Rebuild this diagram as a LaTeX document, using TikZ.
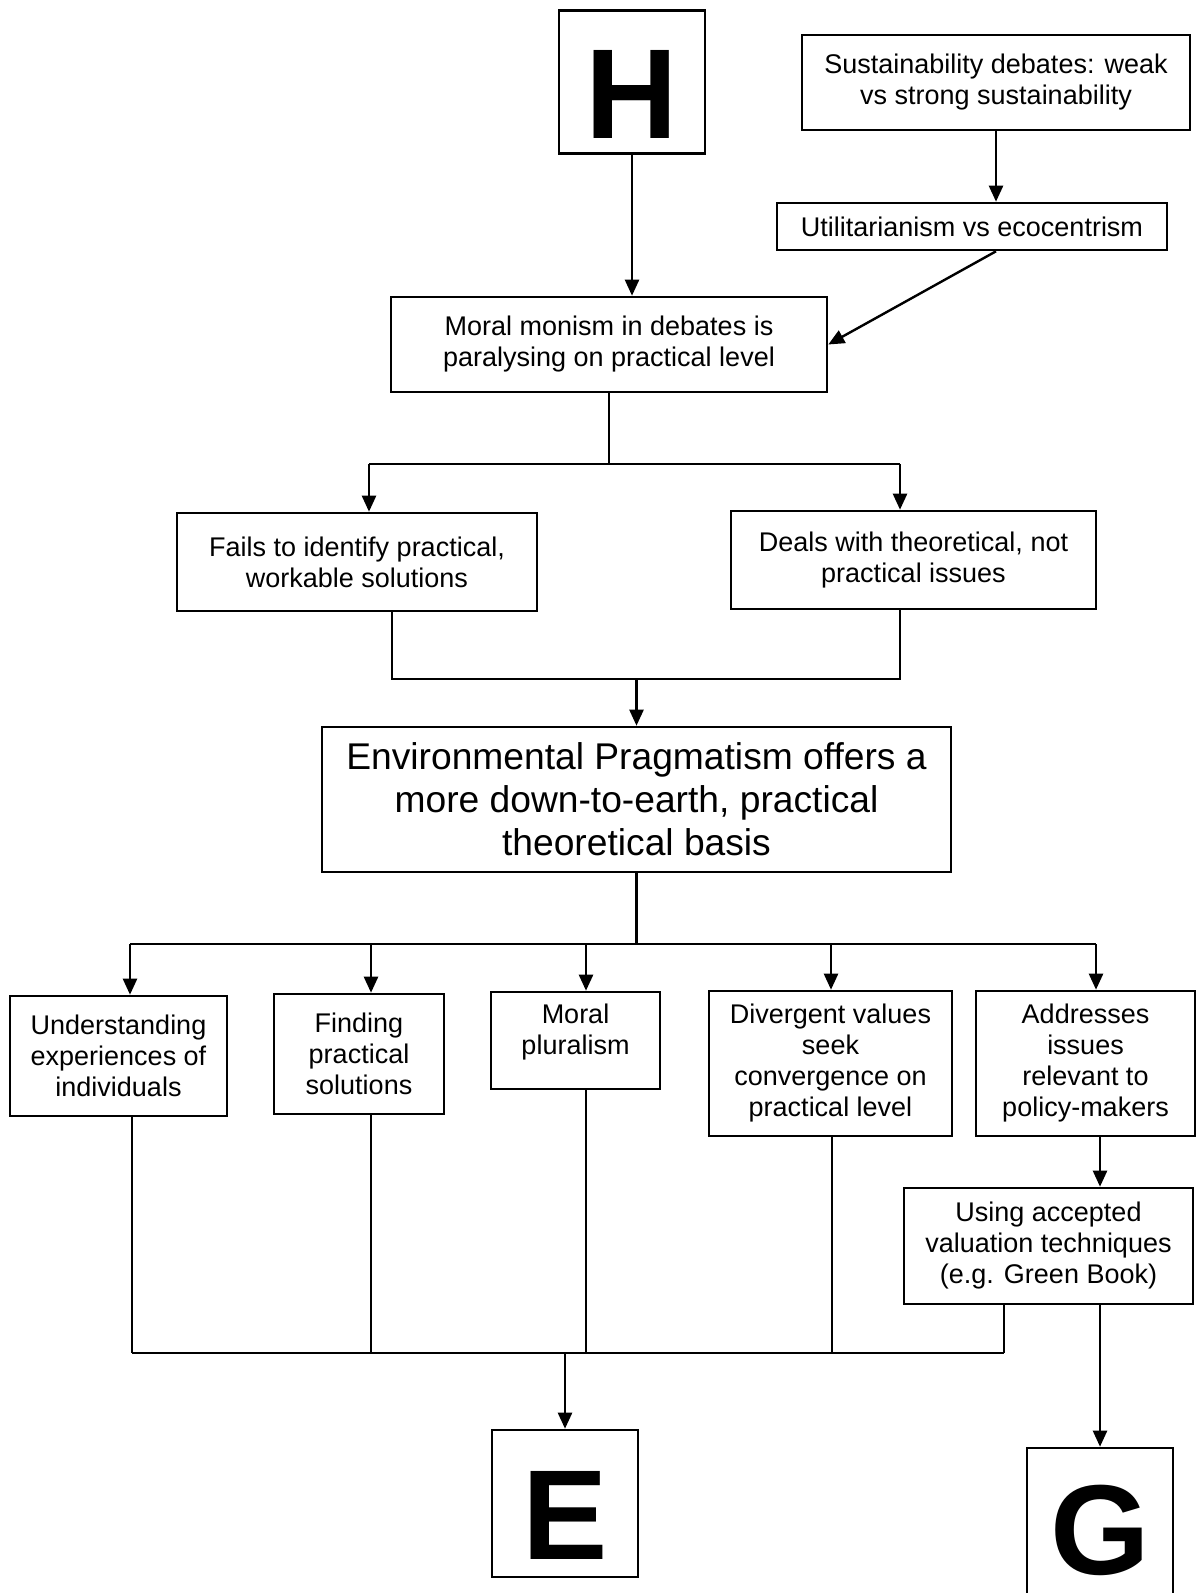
\documentclass[tikz,border=0pt]{standalone}
\usepackage{fontspec}
\setmainfont{Liberation Sans}
\usetikzlibrary{positioning,calc,arrows.meta}

% heavy letter, optionally dropped below the box centre
\newcommand{\bigletter}[2][0pt]{\raisebox{-#1}[\height][0pt]{\fontsize{64}{64}\selectfont\bfseries #2}}

\tikzset{
    box/.style={draw, line width=1.3pt, align=center, inner sep=0pt,
        font=\fontsize{13.5}{15.5}\selectfont},
    bigbox/.style={box, font=\fontsize{18.6}{21.5}\selectfont},
    letterbox/.style={draw, line width=1.3pt, inner sep=0pt,
        minimum width=73pt, minimum height=73pt},
    arr/.style={line width=1.2pt, -{Triangle[length=8pt,width=7pt]}},
    link/.style={line width=1.2pt}
}

\begin{document}
\begin{tikzpicture}[x=0.5pt, y=-0.5pt]
    \useasboundingbox (0,0) rectangle (1201,1593);

    % top part
    \node[letterbox, minimum height=71.5pt] (hbox) at (632,82) {\bigletter[6pt]{H}};
    \node[box, minimum width=194pt, minimum height=47.5pt] (sust) at (996,82.5)
        {Sustainability debates: weak\\vs strong sustainability};
    \node[box, minimum width=195pt, minimum height=23.5pt] (util) at (972,226.5)
        {Utilitarianism vs ecocentrism};
    \node[box, minimum width=218pt, minimum height=47.5pt] (moral) at (609,344.5)
        {Moral monism in debates is\\paralysing on practical level};
    \node[box, minimum width=180pt, minimum height=49pt] (fails) at (357,562)
        {Fails to identify practical,\\workable solutions};
    \node[box, minimum width=182.5pt, minimum height=49pt] (deals) at (913.5,560)
        {Deals with theoretical, not\\practical issues};
    \node[bigbox, minimum width=314.5pt, minimum height=72.5pt] (env) at (636.5,799.5)
        {Environmental Pragmatism offers a\\more down-to-earth, practical\\theoretical basis};

    % the five strands
    \node[box, minimum width=108.5pt, minimum height=60pt] (und) at (118.5,1056)
        {Understanding\\experiences of\\individuals};
    \node[box, minimum width=85pt, minimum height=60pt] (find) at (359,1054)
        {Finding\\practical\\solutions};
    \node[box, minimum width=84.5pt, minimum height=48.5pt] (plur) at (575.5,1040.5)
        {Moral\\pluralism\\[-4pt]};
    \node[box, minimum width=121.5pt, minimum height=72.5pt] (div) at (830.5,1063.5)
        {Divergent values\\seek\\convergence on\\practical level};
    \node[box, minimum width=109.5pt, minimum height=72.5pt] (addr) at (1085.5,1063.5)
        {Addresses\\issues\\relevant to\\policy-makers};
    \node[box, minimum width=144.5pt, minimum height=58pt] (using) at (1048.5,1246)
        {Using accepted\\valuation techniques\\(e.g. Green Book)};

    \node[letterbox, minimum height=73.5pt] (ebox) at (565,1503.5) {\bigletter[6pt]{E}};
    \node[letterbox, minimum height=82pt] (gbox) at (1100,1530) {\bigletter{G}};

    % arrows into the monism box
    \draw[arr] (hbox) -- (hbox |- moral.north);
    \draw[arr] (sust) -- (sust |- util.north);
    \draw[arr] (sust |- util.south) -- (moral.east);

    % first split and join
    \coordinate (fl) at (369,464);
    \coordinate (fr) at (900,464);
    \draw[link] (moral) -- (moral |- fl);
    \draw[link] (fl) -- (fr);
    \draw[arr] (fl) -- (fl |- fails.north);
    \draw[arr] (fr) -- (fr |- deals.north);

    \coordinate (jl) at (392,679);
    \coordinate (jr) at (900,679);
    \draw[link] (jl |- fails.south) -- (jl) -- (jr) -- (jr |- deals.south);
    \draw[arr] (env |- jl) -- (env.north);

    % second split
    \coordinate (f1) at (130,944);
    \coordinate (f2) at (371,944);
    \coordinate (f3) at (586,944);
    \coordinate (f4) at (831,944);
    \coordinate (f5) at (1096,944);
    \draw[link] (env) -- (env |- f1);
    \draw[link] (f1) -- (f5);
    \foreach \f/\n in {f1/und, f2/find, f3/plur, f4/div, f5/addr}
        \draw[arr] (\f) -- (\f |- \n.north);

    % collecting line down to E
    \coordinate (b1) at (132,1353);
    \coordinate (b2) at (371,1353);
    \coordinate (b3) at (586,1353);
    \coordinate (b4) at (832,1353);
    \coordinate (b5) at (1004,1353);
    \foreach \b/\n in {b1/und, b2/find, b3/plur, b4/div, b5/using}
        \draw[link] (\b |- \n.south) -- (\b);
    \draw[link] (b1) -- (b5);
    \draw[arr] (ebox |- b1) -- (ebox.north);

    % policy branch down to G
    \draw[arr] (addr.south -| gbox) -- (using.north -| gbox);
    \draw[arr] (using.south -| gbox) -- (gbox.north);
\end{tikzpicture}
\end{document}
